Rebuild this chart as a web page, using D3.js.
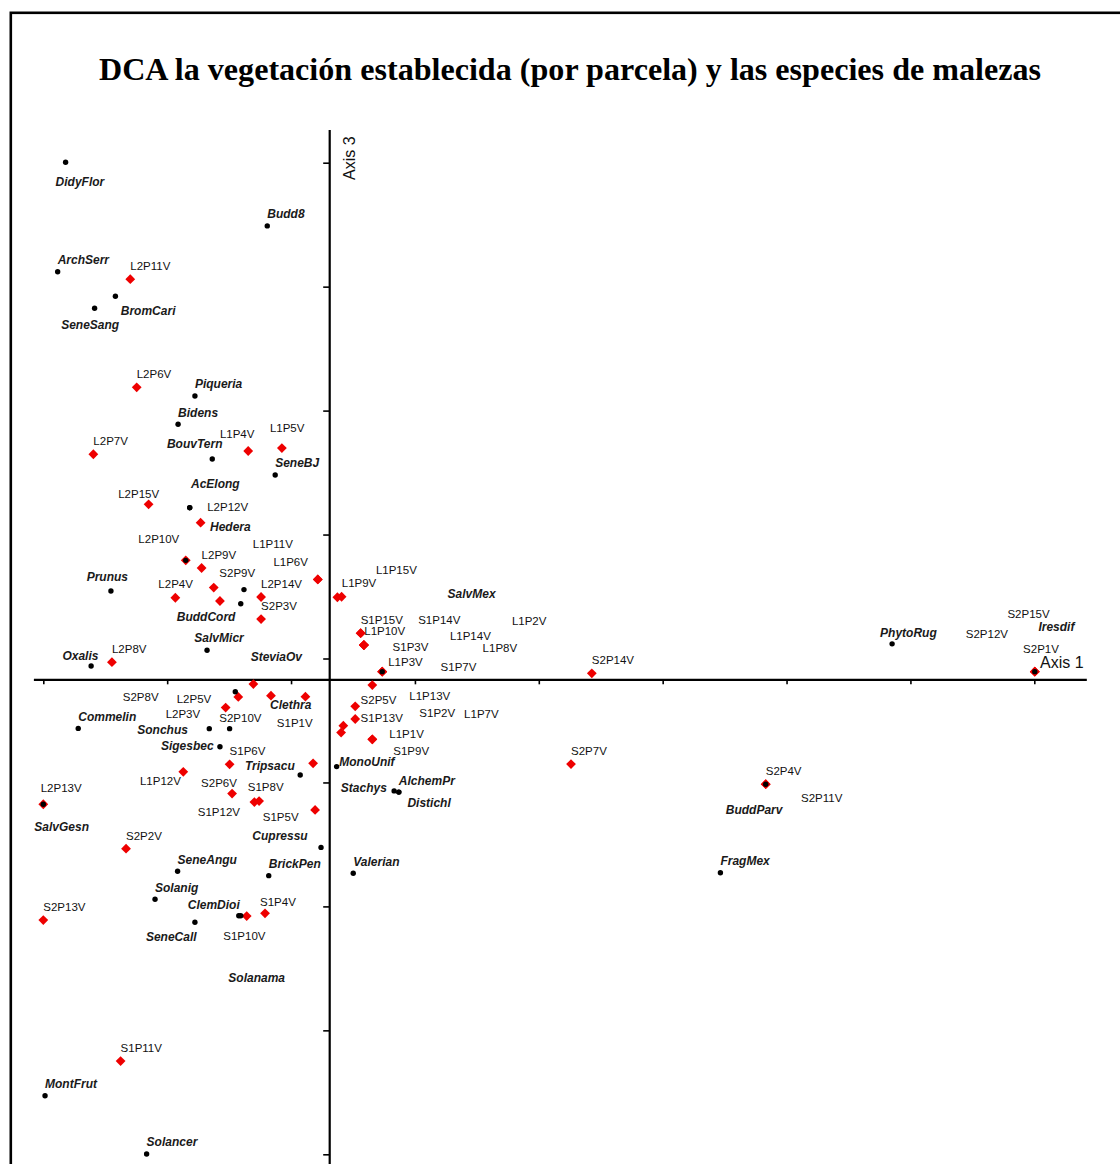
<!DOCTYPE html>
<html>
<head>
<meta charset="utf-8">
<script src="https://cdn.jsdelivr.net/npm/d3@7/dist/d3.min.js"></script>
<style>
  body { margin: 0; background: #fff; }
  svg { display: block; }
  .plot-label { font-family: "Liberation Sans", Arial, sans-serif; font-size: 11.5px; fill: #111; }
  .species-label { font-family: "Liberation Sans", Arial, sans-serif; font-size: 12px; font-weight: bold; font-style: italic; fill: #1a1a1a; }
  .axis-title { font-family: "Liberation Sans", Arial, sans-serif; font-size: 16px; fill: #111; }
</style>
</head>
<body>
<svg id="chart" width="1120" height="1164"></svg>
<script>

// ---- DCA scores (axis 1 / axis 3) ----

// plots (sites)
const plotNames = [
  "L1P1V","L1P2V","L1P3V","L1P4V","L1P5V","L1P6V","L1P7V","L1P8V","L1P9V","L1P10V",
  "L1P11V","L1P12V","L1P13V","L1P14V","L1P15V",
  "L2P1V","L2P2V","L2P3V","L2P4V","L2P5V","L2P6V","L2P7V","L2P8V","L2P9V","L2P10V",
  "L2P11V","L2P12V","L2P13V","L2P14V","L2P15V",
  "S1P1V","S1P2V","S1P3V","S1P4V","S1P5V","S1P6V","S1P7V","S1P8V","S1P9V","S1P10V",
  "S1P11V","S1P12V","S1P13V","S1P14V","S1P15V",
  "S2P1V","S2P2V","S2P3V","S2P4V","S2P5V","S2P6V","S2P7V","S2P8V","S2P9V","S2P10V",
  "S2P11V","S2P12V","S2P13V","S2P14V","S2P15V"
];
const plotAxis1 = [
  132.8, 129.4, 136.8, 82.7, 96.3, 110.8, 120.2, 136.8, 118.7, 128.1,
  110.8, 56.5, 132.8, 129.4, 120.4,
  71.3, 108.9, 73.6, 53.3, 78.7, 37.7, 20.2, 27.7, 63.9, 57.5,
  35.1, 63.5, 0.0, 87.9, 42.5,
  105.8, 121.1, 129.4, 89.5, 109.7, 75.2, 136.8, 85.2, 132.8, 82.1,
  31.2, 87.1, 125.9, 129.4, 128.1,
  400.2, 33.4, 87.9, 291.6, 125.9, 76.2, 213.0, 84.8, 68.8, 91.9,
  291.6, 400.2, 0.0, 221.4, 400.2
];
const plotAxis3 = [
  167.4, 205.4, 194.7, 283.7, 284.9, 231.9, 170.1, 194.7, 224.7, 210.2,
  231.9, 154.3, 189.3, 205.4, 224.9,
  223.2, 157.7, 180.2, 224.5, 184.5, 309.4, 282.4, 198.5, 236.5, 239.6,
  353.0, 254.8, 141.2, 224.8, 262.2,
  184.6, 172.9, 205.4, 97.2, 138.9, 157.3, 194.7, 142.1, 167.4, 96.1,
  37.6, 142.5, 175.6, 205.4, 210.2,
  194.7, 123.3, 215.9, 149.3, 180.7, 145.5, 157.4, 189.7, 228.6, 185.0,
  149.3, 194.7, 94.5, 194.0, 194.7
];
// plots whose label is not printed in the figure
const unlabeledPlots = ["L2P1V", "L2P2V"];

// weed species ("" = point without a printed name)
const speciesNames = [
  "DidyFlor","Budd8","ArchSerr","BromCari","SeneSang","Piqueria","Bidens","BouvTern",
  "SeneBJ","AcElong","Hedera","Prunus","SteviaOv","BuddCord","SalvMicr","Oxalis",
  "SalvMex","PhytoRug","Iresdif","","Clethra","Commelin","Sonchus","",
  "Sigesbec","Tripsacu","MonoUnif","Stachys","AlchemPr","Distichl","SalvGesn","BuddParv",
  "Cupressu","Valerian","SeneAngu","BrickPen","Solanig","ClemDioi","Solanama","SeneCall",
  "FragMex","MontFrut","Solancer"
];
const speciesAxis1 = [
  9.0, 90.4, 5.8, 29.1, 20.7, 61.2, 54.4, 68.2,
  93.6, 59.1, 59.1, 27.3, 81.0, 79.7, 66.1, 19.3,
  136.8, 342.6, 400.2, 57.5, 77.5, 14.1, 67.0, 75.2,
  71.3, 103.7, 118.4, 141.6, 143.5, 143.5, 0.0, 291.6,
  112.1, 125.1, 54.2, 91.0, 45.1, 78.9, 79.7, 61.2,
  273.3, 0.7, 41.7
];
const speciesAxis3 = [
  400.2, 374.5, 356.0, 346.1, 341.3, 305.9, 294.5, 280.5,
  274.0, 260.8, 260.8, 227.2, 227.8, 222.1, 203.3, 197.0,
  194.7, 205.9, 194.7, 239.6, 186.6, 171.8, 171.7, 171.7,
  164.4, 153.0, 156.4, 146.6, 146.1, 146.1, 141.2, 149.3,
  123.8, 113.4, 114.2, 112.4, 102.9, 96.2, 96.2, 93.6,
  113.6, 23.6, 0.1
];

// axis ticks (no tick labels are printed) and where the two axes cross
const tickValues = [0, 50, 100, 150, 200, 250, 300, 350, 400];
const axisCross = { axis1: 115.4, axis3: 191.6 };

const titleText = "DCA la vegetación establecida (por parcela) y las especies de malezas";

// ---- label placement: pixel nudges from the point (left edge, baseline) ----
const plotNudgeDefault = [0, -9];
const speciesNudgeDefault = [0, -7.6];
const labelNudge = {
  // plots
  "L1P1V": [17, -1.8], "L1P2V": [148, -20], "L1P3V": [6, -5.7], "L1P4V": [-28.3, -13],
  "L1P5V": [-12, -16.5], "L1P6V": [-44.4, -13.3], "L1P7V": [123, -14.2], "L1P8V": [100.4, -19.7],
  "L1P9V": [4.4, -9.8], "L1P10V": [3.6, 2.2], "L1P11V": [-65, -31.8], "L1P12V": [-43.3, 13.3],
  "L1P13V": [37, 14.5], "L1P14V": [86, -5.5], "L1P15V": [34.3, -23.2],
  "L2P3V": [-60, 10.3], "L2P4V": [-17, -9.7], "L2P5V": [-61.6, 6.5], "L2P10V": [-47.4, -17.8],
  "L2P12V": [6.6, -11.7], "L2P13V": [-2.6, -12.3], "L2P15V": [-30.4, -6.3],
  "S1P1V": [-28.6, 30.8], "S1P2V": [76, -8.7], "S1P3V": [28.7, 6], "S1P4V": [-5, -7.3],
  "S1P5V": [-52.3, 11], "S1P7V": [58.4, -0.7], "S1P8V": [-6.6, -11], "S1P9V": [21, 15.7],
  "S1P10V": [-23.4, 24], "S1P12V": [-61.3, 15], "S1P13V": [5.4, 3.5], "S1P14V": [54.3, -21],
  "S2P1V": [-11.7, -18.2], "S2P5V": [5.4, -2.3], "S2P6V": [-31, -6.2], "S2P8V": [-130.6, 17],
  "S2P9V": [5.6, -10.7], "S2P10V": [-51.7, 26.8], "S2P11V": [35.3, 17.7], "S2P12V": [-69, -33.2],
  "S2P15V": [-27.4, -53.2],
  // species
  "DidyFlor": [-10, 23.4], "BromCari": [5.4, 18.7], "SeneSang": [-33.4, 20.7],
  "BouvTern": [-45.3, -11], "AcElong": [1.3, -19.4], "Hedera": [20.3, 23],
  "Prunus": [-24.3, -10.3], "SteviaOv": [6.7, 71], "BuddCord": [-64, 17.6],
  "SalvMicr": [-12.7, -8], "Oxalis": [-28.7, -6.3], "SalvMex": [65.4, -73.4],
  "PhytoRug": [-12, -7.3], "Iresdif": [3.6, -40.4], "Clethra": [34.7, 17.3],
  "Sonchus": [-72, 5.3], "Sigesbec": [-59, 3.6], "Tripsacu": [-55.3, -5],
  "MonoUnif": [2.6, -1], "Stachys": [-53.3, 0.7], "Distichl": [8.6, 15.3],
  "SalvGesn": [-9, 26.4], "BuddParv": [-40, 29.7], "Cupressu": [-68.7, -7.3],
  "ClemDioi": [-51, -6.4], "Solanama": [-12.4, 66.3], "SeneCall": [-49, 18.4]
};

// ---- build ----
const plots = plotNames.map((name, i) => ({ name, a1: plotAxis1[i], a3: plotAxis3[i] }));
const species = speciesNames.map((name, i) => ({ name, a1: speciesAxis1[i], a3: speciesAxis3[i] }));

const svg = d3.select('#chart');

// equal scaling on both axes (same px per unit)
const x = d3.scaleLinear().domain([0, 400]).range([43.3, 1034.3]);
const y = d3.scaleLinear().domain([0, 400]).range([1154.3, 162.7]);

// outer frame (right and bottom edges fall outside the picture)
svg.append('rect')
  .attr('x', 10.8).attr('y', 12.8)
  .attr('width', 1200).attr('height', 1200)
  .attr('fill', 'none').attr('stroke', '#000').attr('stroke-width', 2.6);

// title: keep the glyph height, squeeze to the width it has in the figure
svg.append('text')
  .attr('x', 570).attr('y', 80)
  .attr('text-anchor', 'middle')
  .attr('textLength', 942)
  .attr('lengthAdjust', 'spacingAndGlyphs')
  .style('font-family', '"Liberation Serif", "Times New Roman", serif')
  .style('font-weight', 'bold')
  .style('font-size', '31.5px')
  .text(titleText);

// axes drawn through the crossing point
const xAxisScale = x.copy().domain([-4, 421]).range([x(-4), x(421)]);
const yAxisScale = y.copy().domain([-5, 413.4]).range([y(-5), y(413.4)]);

const xAxis = svg.append('g')
  .attr('transform', `translate(0,${y(axisCross.axis3)})`)
  .call(d3.axisBottom(xAxisScale).tickValues(tickValues).tickFormat('').tickSize(5).tickSizeOuter(0));

const yAxis = svg.append('g')
  .attr('transform', `translate(${x(axisCross.axis1)},0)`)
  .call(d3.axisLeft(yAxisScale).tickValues(tickValues).tickFormat('').tickSize(6).tickSizeOuter(0));

[xAxis, yAxis].forEach(g => {
  g.select('.domain').attr('stroke', '#000').attr('stroke-width', 2.2);
  g.selectAll('.tick line').attr('stroke', '#000').attr('stroke-width', 1.6);
});

svg.append('text')
  .attr('class', 'axis-title')
  .attr('x', 1040).attr('y', 667.5)
  .text('Axis 1');

svg.append('text')
  .attr('class', 'axis-title')
  .attr('transform', `translate(${x(axisCross.axis1) + 26},180) rotate(-90)`)
  .text('Axis 3');

// plot markers: red diamonds
const r = 4.9;
svg.append('g')
  .selectAll('path')
  .data(plots)
  .join('path')
    .attr('d', `M0,${-r}L${r},0L0,${r}L${-r},0Z`)
    .attr('transform', d => `translate(${x(d.a1)},${y(d.a3)})`)
    .attr('fill', '#ee0000');

// species markers: small black dots (drawn over the diamonds)
svg.append('g')
  .selectAll('circle')
  .data(species)
  .join('circle')
    .attr('cx', d => x(d.a1))
    .attr('cy', d => y(d.a3))
    .attr('r', 2.7)
    .attr('fill', '#000');

// labels
function nudge(name, def) {
  return labelNudge[name] || def;
}

svg.append('g')
  .selectAll('text')
  .data(plots.filter(d => !unlabeledPlots.includes(d.name)))
  .join('text')
    .attr('class', 'plot-label')
    .attr('x', d => x(d.a1) + nudge(d.name, plotNudgeDefault)[0])
    .attr('y', d => y(d.a3) + nudge(d.name, plotNudgeDefault)[1])
    .text(d => d.name);

svg.append('g')
  .selectAll('text')
  .data(species.filter(d => d.name !== ''))
  .join('text')
    .attr('class', 'species-label')
    .attr('x', d => x(d.a1) + nudge(d.name, speciesNudgeDefault)[0])
    .attr('y', d => y(d.a3) + nudge(d.name, speciesNudgeDefault)[1])
    .text(d => d.name);

</script>
</body>
</html>
